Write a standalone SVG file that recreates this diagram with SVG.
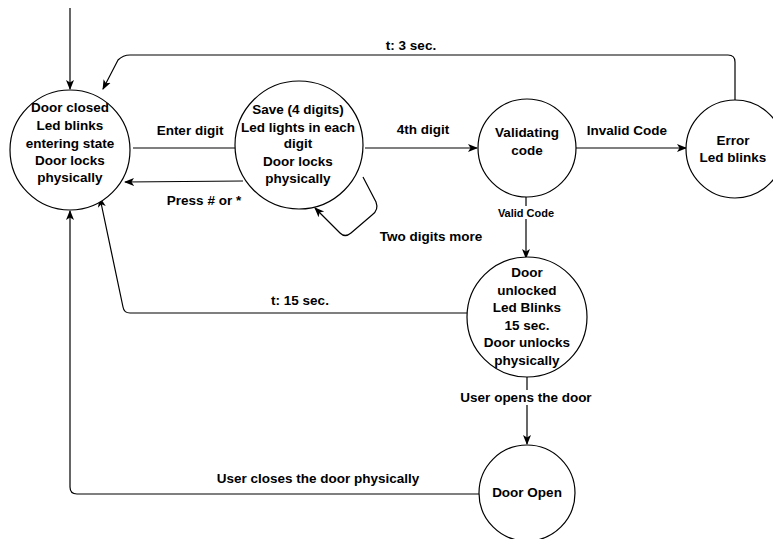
<svg xmlns="http://www.w3.org/2000/svg" width="773" height="539" viewBox="0 0 773 539">
<defs>
<marker id="arr" viewBox="0 0 10 10" refX="9" refY="5" markerWidth="10" markerHeight="10" markerUnits="userSpaceOnUse" orient="auto">
<path d="M0,1 L10,5 L0,9 L2.5,5 Z" fill="#000"/>
</marker>
<style>
.n{fill:#fff;stroke:#000;stroke-width:1.2}
.e{fill:none;stroke:#000;stroke-width:1.2}
.a{marker-end:url(#arr)}
text{font-family:"Liberation Sans",Arial,sans-serif;font-size:13.5px;font-weight:bold;text-anchor:middle;fill:#000}
.s{font-size:11px}
</style>
</defs>
<rect width="773" height="539" fill="#fff"/>
<g id="connectors">
<path class="e a" d="M70,8 L70,89"/>
<path class="e" d="M133,148 L235,148"/>
<path class="e a" d="M243,181 L125,182"/>
<path class="e a" d="M363,177 L376,202 Q379,210 372,215 L351,233 Q345,238 340,233 L315,208"/>
<path class="e a" d="M365,148 L477,148"/>
<path class="e a" d="M575,148 L686,148"/>
<path class="e a" d="M735,100 L735,62 Q735,55 728,55 L130,55 Q123,55 118,60 L103,89"/>
<path class="e a" d="M526,197 L526,258"/>
<path class="e a" d="M467,313 L130,313 Q124,313 123,307 L100,198"/>
<path class="e a" d="M527,377 L527,444"/>
<path class="e a" d="M479,494 L77,494 Q70,494 70,487 L70,211"/>
</g>
<g id="labels">
<rect x="498" y="206" width="57" height="13" fill="#fff"/>
<text class="s" x="526" y="217">Valid Code</text>
<rect x="455" y="390" width="140" height="15" fill="#fff"/>
<text x="526" y="402">User opens the door</text>
<text x="190" y="135">Enter digit</text>
<text x="204" y="205">Press # or *</text>
<text x="423" y="134">4th digit</text>
<text x="627" y="135">Invalid Code</text>
<text x="411" y="50">t: 3 sec.</text>
<text x="431" y="241">Two digits more</text>
<text x="300" y="305">t: 15 sec.</text>
<text x="318" y="483">User closes the door physically</text>
</g>
<g id="door-closed">
<circle class="n" cx="70" cy="150" r="60"/>
<text x="70" y="112">Door closed</text>
<text x="70" y="130">Led blinks</text>
<text x="70" y="148">entering state</text>
<text x="70" y="165">Door locks</text>
<text x="70" y="182">physically</text>
</g>
<g id="save">
<circle class="n" cx="299" cy="145" r="64"/>
<text x="298" y="114">Save (4 digits)</text>
<text x="298" y="132">Led lights in each</text>
<text x="298" y="148">digit</text>
<text x="298" y="166">Door locks</text>
<text x="298" y="183">physically</text>
</g>
<g id="validating">
<circle class="n" cx="527" cy="148" r="49"/>
<text x="527" y="137">Validating</text>
<text x="527" y="155">code</text>
</g>
<g id="error">
<circle class="n" cx="735" cy="149" r="49"/>
<text x="733" y="145">Error</text>
<text x="733" y="162">Led blinks</text>
</g>
<g id="door-unlocked">
<circle class="n" cx="527" cy="317" r="60"/>
<text x="527" y="277">Door</text>
<text x="527" y="295">unlocked</text>
<text x="527" y="312">Led Blinks</text>
<text x="527" y="330">15 sec.</text>
<text x="527" y="347">Door unlocks</text>
<text x="527" y="365">physically</text>
</g>
<g id="door-open">
<circle class="n" cx="527" cy="493" r="48"/>
<text x="527" y="497">Door Open</text>
</g>
</svg>
